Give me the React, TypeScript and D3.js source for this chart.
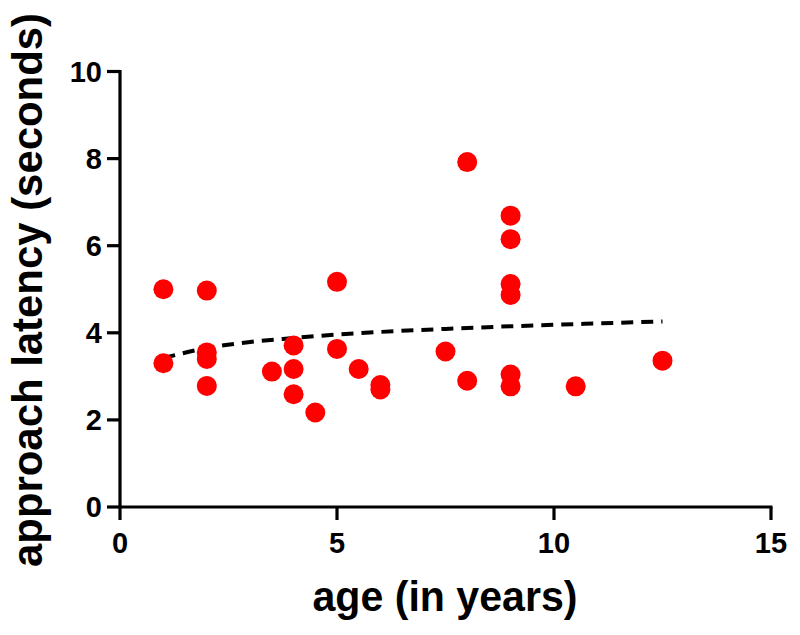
import React from "react";
import * as d3 from "d3";

const ages = [1, 1, 2, 2, 2, 2, 3.5, 4, 4, 4, 4.5, 5, 5, 5.5, 6, 6, 7.5, 8, 8, 9, 9, 9, 9, 9, 9, 10.5, 12.5];
const latency = [5.0, 3.3, 4.97, 3.55, 3.4, 2.78, 3.11, 3.71, 3.17, 2.59, 2.17, 5.17, 3.63, 3.17, 2.8, 2.7, 3.57, 7.92, 2.9, 6.69, 6.15, 5.12, 4.87, 3.04, 2.77, 2.77, 3.36];

const fitAge = [1, 2, 3, 4, 5, 6, 7.5, 9, 10.5, 12.5];
const fitLatency = [3.42, 3.65, 3.79, 3.88, 3.96, 4.02, 4.09, 4.15, 4.2, 4.26];

const xTicks = [0, 5, 10, 15];
const yTicks = [0, 2, 4, 6, 8, 10];

const xTitle = "age (in years)";
const yTitle = "approach latency (seconds)";

export default function App() {
  const W = 800;
  const H = 635;
  const x = d3.scaleLinear().domain([0, 15]).range([120, 771]);
  const y = d3.scaleLinear().domain([0, 10]).range([507, 71.5]);
  const font = "'Liberation Sans', Arial, sans-serif";
  const tickLen = 13;

  const points = ages.map((a, i) => ({ a, v: latency[i] }));
  const fit = fitAge.map((a, i) => [a, fitLatency[i]] as [number, number]);
  const line = d3
    .line<[number, number]>()
    .x((d) => x(d[0]))
    .y((d) => y(d[1]))
    .curve(d3.curveMonotoneX);

  return (
    <svg
      width={W}
      height={H}
      style={{ position: "absolute", left: 0, top: 0, background: "#fff" }}
    >
      <rect x={0} y={0} width={W} height={H} fill="#fff" />
      {/* axes */}
      <line x1={x(0)} x2={x(15) + 1.5} y1={y(0)} y2={y(0)} stroke="#000" strokeWidth={3.2} />
      <line x1={x(0)} x2={x(0)} y1={y(0)} y2={y(10) - 1.5} stroke="#000" strokeWidth={3.2} />
      {xTicks.map((t) => (
        <g key={"xt" + t}>
          <line x1={x(t)} x2={x(t)} y1={y(0)} y2={y(0) + tickLen} stroke="#000" strokeWidth={3.2} />
          <text
            x={x(t)}
            y={553}
            textAnchor="middle"
            fontFamily={font}
            fontWeight="bold"
            fontSize={29}
            fill="#000"
          >
            {t}
          </text>
        </g>
      ))}
      {yTicks.map((t) => (
        <g key={"yt" + t}>
          <line x1={x(0) - tickLen} x2={x(0)} y1={y(t)} y2={y(t)} stroke="#000" strokeWidth={3.2} />
          <text
            x={102}
            y={y(t)}
            dy="0.36em"
            textAnchor="end"
            fontFamily={font}
            fontWeight="bold"
            fontSize={29}
            fill="#000"
          >
            {t}
          </text>
        </g>
      ))}
      {/* fit line */}
      <path
        d={line(fit) || ""}
        fill="none"
        stroke="#000"
        strokeWidth={4}
        strokeDasharray="12,8"
      />
      {/* points */}
      {points.map((p, i) => (
        <circle key={i} cx={x(p.a)} cy={y(p.v)} r={10} fill="#ff0000" />
      ))}
      {/* titles */}
      <text
        x={445}
        y={611}
        textAnchor="middle"
        fontFamily={font}
        fontWeight="bold"
        fontSize={42}
        textLength={265}
        lengthAdjust="spacingAndGlyphs"
        fill="#000"
      >
        {xTitle}
      </text>
      <text
        transform={`translate(42,290) rotate(-90)`}
        textAnchor="middle"
        fontFamily={font}
        fontWeight="bold"
        fontSize={42}
        textLength={554}
        lengthAdjust="spacingAndGlyphs"
        fill="#000"
      >
        {yTitle}
      </text>
    </svg>
  );
}
